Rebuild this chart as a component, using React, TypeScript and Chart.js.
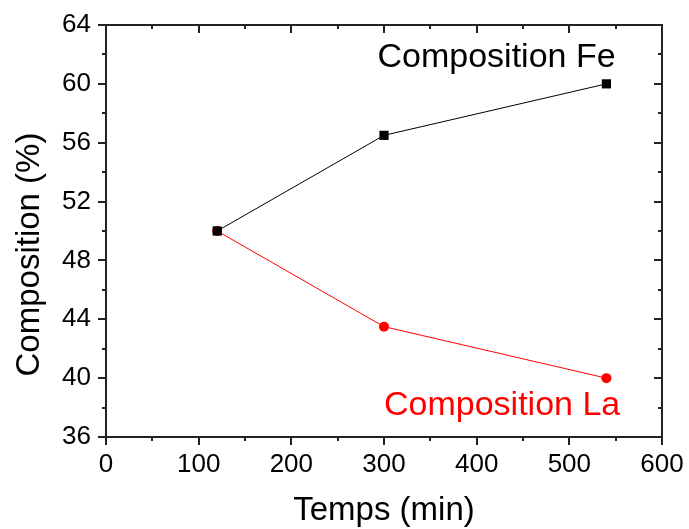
import React, { useEffect, useRef } from "react";
import { Chart, registerables } from "chart.js";

Chart.register(...registerables);

const times = [120, 300, 540];
const feValues = [50, 56.5, 60];
const laValues = [50, 43.5, 40];
const xMajorTicks = [0, 100, 200, 300, 400, 500, 600];
const xMinorTicks = [50, 150, 250, 350, 450, 550];
const yMajorTicks = [36, 40, 44, 48, 52, 56, 60, 64];
const yMinorTicks = [38, 42, 46, 50, 54, 58, 62];
const annotationLabels = ["Composition Fe", "Composition La"];
const annotationX = [293, 300];
const annotationY = [61.8, 38.1];
const annotationColors = ["#000000", "#ff0000"];
const yTitle = "Composition (%)";
const yTitleCenterValue = 48.4;

const FONT = '"Liberation Sans", Arial, sans-serif';

const framePlugin = {
  id: "originFrame",
  afterDraw(chart: any) {
    const ctx = chart.ctx;
    const a = chart.chartArea;
    const xs = chart.scales.x;
    const ys = chart.scales.y;
    ctx.save();
    ctx.strokeStyle = "#222222";
    ctx.lineWidth = 2;
    ctx.strokeRect(a.left, a.top, a.right - a.left, a.bottom - a.top);
    const major = 8;
    const minor = 4;
    ctx.beginPath();
    const xTick = (v: number, len: number) => {
      const px = Math.round(xs.getPixelForValue(v));
      ctx.moveTo(px, a.bottom);
      ctx.lineTo(px, a.bottom + len);
      ctx.moveTo(px, a.top);
      ctx.lineTo(px, a.top + len);
    };
    const yTick = (v: number, len: number) => {
      const py = Math.round(ys.getPixelForValue(v));
      ctx.moveTo(a.left, py);
      ctx.lineTo(a.left - len, py);
      ctx.moveTo(a.right, py);
      ctx.lineTo(a.right - len, py);
    };
    xMajorTicks.forEach((v) => xTick(v, major));
    xMinorTicks.forEach((v) => xTick(v, minor));
    yMajorTicks.forEach((v) => yTick(v, major));
    yMinorTicks.forEach((v) => yTick(v, minor));
    ctx.lineWidth = 2;
    ctx.stroke();

    ctx.font = `34px ${FONT}`;
    ctx.textBaseline = "middle";
    ctx.textAlign = "left";
    annotationLabels.forEach((t, i) => {
      ctx.fillStyle = annotationColors[i];
      ctx.fillText(t, xs.getPixelForValue(annotationX[i]), ys.getPixelForValue(annotationY[i]));
    });

    ctx.translate(30, ys.getPixelForValue(yTitleCenterValue));
    ctx.rotate(-Math.PI / 2);
    ctx.textAlign = "center";
    ctx.fillStyle = "#000";
    ctx.font = `33px ${FONT}`;
    ctx.fillText(yTitle, 0, 0);
    ctx.restore();
  },
};

export default function App() {
  const ref = useRef<HTMLCanvasElement>(null);
  useEffect(() => {
    if (!ref.current) return;
    const chart = new Chart(ref.current, {
      type: "line",
      data: {
        datasets: [
          {
            label: "Fe",
            data: times.map((t, i) => ({ x: t, y: feValues[i] })),
            borderColor: "#000000",
            backgroundColor: "#000000",
            borderWidth: 1,
            pointStyle: "rect",
            pointRadius: 6.5,
            pointBorderWidth: 0,
          },
          {
            label: "La",
            data: times.map((t, i) => ({ x: t, y: laValues[i] })),
            borderColor: "#ff0000",
            backgroundColor: "#ff0000",
            borderWidth: 1,
            pointStyle: "circle",
            pointRadius: 5,
            pointBorderWidth: 0,
          },
        ],
      },
      plugins: [framePlugin],
      options: {
        animation: false,
        responsive: false,
        layout: { padding: { top: 25, right: 27, left: 0, bottom: 0 } },
        plugins: { legend: { display: false }, tooltip: { enabled: false } },
        scales: {
          x: {
            type: "linear",
            min: 0,
            max: 600,
            afterFit: (s: any) => {
              s.height = 92;
              s.paddingLeft = 0;
              s.paddingRight = 0;
            },
            afterBuildTicks: (s: any) => {
              s.ticks = xMajorTicks.map((v) => ({ value: v }));
            },
            grid: { display: false, drawTicks: false },
            border: { display: false },
            ticks: { color: "#000", font: { size: 26, family: FONT }, padding: 12 },
            title: {
              display: true,
              text: "Temps (min)",
              color: "#000",
              font: { size: 33, family: FONT },
              padding: { top: 0, bottom: -2 },
            },
          },
          y: {
            type: "linear",
            min: 36,
            max: 64,
            afterFit: (s: any) => {
              s.width = 106;
              s.paddingTop = 0;
              s.paddingBottom = 0;
            },
            afterBuildTicks: (s: any) => {
              s.ticks = yMajorTicks.map((v) => ({ value: v }));
            },
            grid: { display: false, drawTicks: false },
            border: { display: false },
            ticks: { color: "#000", font: { size: 26, family: FONT }, padding: 15 },
          },
        },
      },
    } as any);
    return () => chart.destroy();
  }, []);
  return (
    <div style={{ position: "absolute", left: 0, top: 0, width: 689, height: 529 }}>
      <canvas ref={ref} width={689} height={529} />
    </div>
  );
}
